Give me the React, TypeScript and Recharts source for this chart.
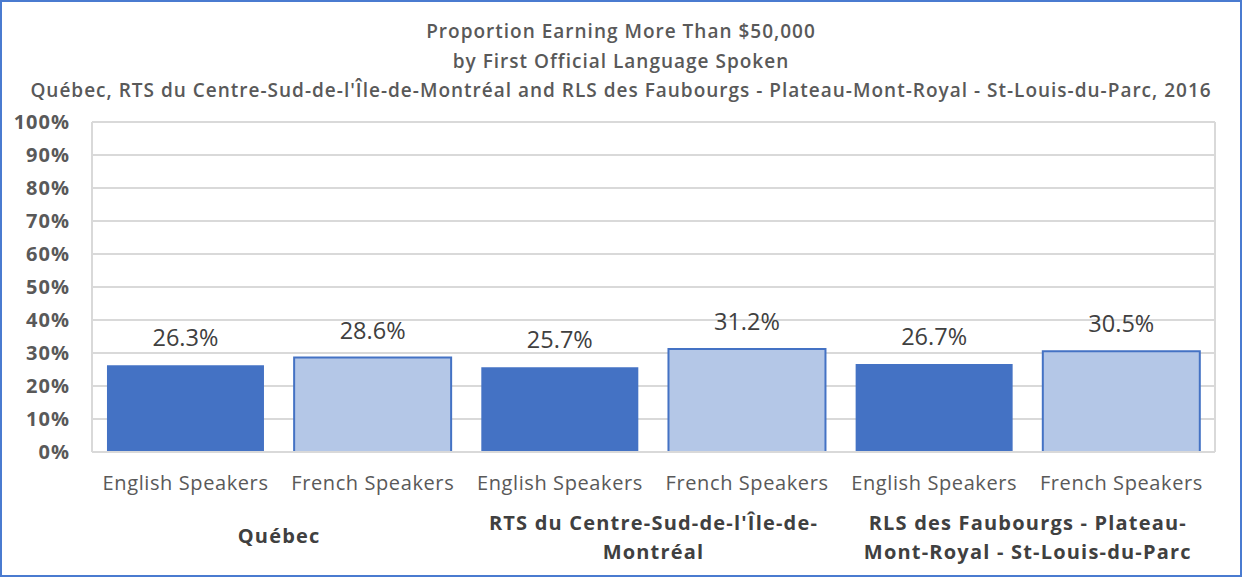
import React from "react";
import {
  BarChart,
  Bar,
  XAxis,
  YAxis,
  CartesianGrid,
  Cell,
  LabelList,
} from "recharts";

const titleLines = [
  "Proportion Earning More Than $50,000",
  "by First Official Language Spoken",
  "Québec, RTS du Centre-Sud-de-l'Île-de-Montréal and RLS des Faubourgs - Plateau-Mont-Royal - St-Louis-du-Parc, 2016",
];
const groups = [
  "Québec",
  "RTS du Centre-Sud-de-l'Île-de-Montréal",
  "RLS des Faubourgs - Plateau-Mont-Royal - St-Louis-du-Parc",
];
const groupLabelLines = [
  ["Québec"],
  ["RTS du Centre-Sud-de-l'Île-de-", "Montréal"],
  ["RLS des Faubourgs - Plateau-", "Mont-Royal - St-Louis-du-Parc"],
];
const languages = ["English Speakers", "French Speakers"];
const englishValues = [26.3, 25.7, 26.7];
const frenchValues = [28.6, 31.2, 30.5];
const yTicks = [0, 10, 20, 30, 40, 50, 60, 70, 80, 90, 100];

const DARK = "#4472C4";
const LIGHT = "#B4C7E7";
const FONT = "'Open Sans', sans-serif";

const data = groups.flatMap((g, gi) => [
  { group: g, groupIndex: gi, lang: languages[0], value: englishValues[gi], kind: 0 },
  { group: g, groupIndex: gi, lang: languages[1], value: frenchValues[gi], kind: 1 },
]);

const GroupTick = (props: any) => {
  const { x, y, payload } = props;
  const idx = payload.index;
  if (idx % 2 !== 0) return null;
  const off = payload.offset ?? 93.6;
  const lines = groupLabelLines[Math.floor(idx / 2)];
  const cx = x + off;
  const startY = lines.length === 1 ? y + 38 : y + 25;
  return (
    <g>
      {lines.map((l, i) => (
        <text
          key={i}
          x={cx}
          y={startY + i * 29}
          textAnchor="middle"
          fill="#404040"
          fontFamily={FONT}
          fontWeight={700}
          fontSize={20}
          letterSpacing={1.2}
        >
          {l}
        </text>
      ))}
    </g>
  );
};

const LangTick = (props: any) => {
  const { x, y, payload } = props;
  return (
    <text
      x={x}
      y={y + 30}
      textAnchor="middle"
      fill="#595959"
      fontFamily={FONT}
      fontSize={20}
      letterSpacing={0.6}
    >
      {payload.value}
    </text>
  );
};

export default function App() {
  return (
    <div
      style={{
        position: "absolute",
        left: 0,
        top: 0,
        width: 1242,
        height: 577,
        background: "#fff",
        fontFamily: FONT,
      }}
    >
      {titleLines.map((t, i) => (
        <div
          key={i}
          style={{
            position: "absolute",
            left: 0,
            width: 1242,
            top: 19 + i * 29.5,
            textAlign: "center",
            color: "#595959",
            fontWeight: 600,
            fontSize: 19,
            letterSpacing: 1,
            lineHeight: "24px",
            whiteSpace: "nowrap",
          }}
        >
          {t}
        </div>
      ))}
      <div style={{ position: "absolute", left: 0, top: 0 }}>
        <BarChart
          width={1242}
          height={577}
          data={data}
          margin={{ top: 122, right: 27, bottom: 0, left: 0 }}
          barCategoryGap="8%"
        >
          <CartesianGrid
            stroke="#D9D9D9"
            strokeWidth={2}
            horizontal={true}
            vertical={true}
            verticalCoordinatesGenerator={({ offset }: any) => [
              offset.left,
              offset.left + offset.width,
            ]}
          />
          <YAxis
            width={92}
            domain={[0, 100]}
            ticks={yTicks}
            interval={0}
            axisLine={false}
            tickLine={false}
            tickMargin={16}
            tickFormatter={(v: number) => `${v}%`}
            tick={{ fill: "#595959", fontSize: 20, fontWeight: 700, fontFamily: FONT, letterSpacing: 1 }}
          />
          <XAxis
            dataKey="lang"
            interval={0}
            height={45}
            axisLine={{ stroke: "#D9D9D9", strokeWidth: 2 }}
            tickLine={false}
            tick={<LangTick />}
          />
          <XAxis
            xAxisId="group"
            dataKey="group"
            interval={0}
            height={80}
            axisLine={false}
            tickLine={false}
            tick={<GroupTick />}
          />
          <Bar dataKey="value" isAnimationActive={false}>
            {data.map((d, i) => (
              <Cell
                key={i}
                fill={d.kind === 0 ? DARK : LIGHT}
                stroke={DARK}
                strokeWidth={d.kind === 0 ? 0 : 2}
              />
            ))}
            <LabelList
              dataKey="value"
              position="top"
              offset={19}
              formatter={(v: number) => `${v.toFixed(1)}%`}
              fill="#404040"
              fontSize={23.5}
              fontFamily={FONT}
            />
          </Bar>
        </BarChart>
      </div>
      <div
        style={{
          position: "absolute",
          left: 0,
          top: 0,
          width: 1242,
          height: 577,
          boxSizing: "border-box",
          border: "2px solid #4A7BD0",
          pointerEvents: "none",
        }}
      />
    </div>
  );
}
